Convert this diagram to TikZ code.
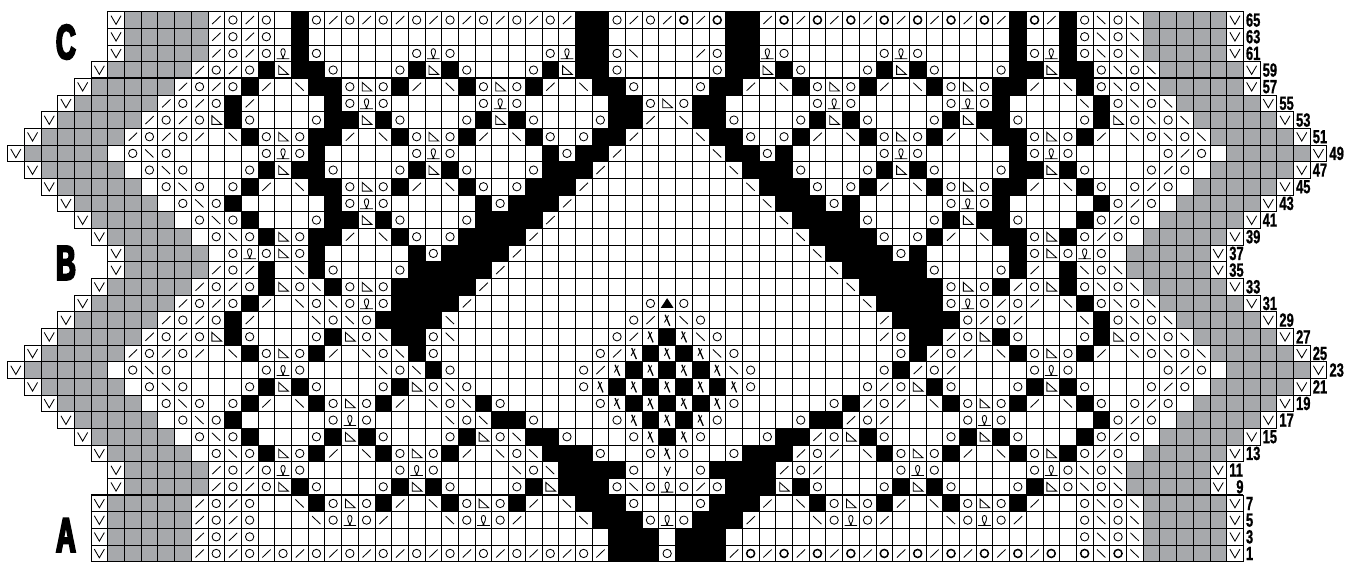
\documentclass[tikz,border=0pt]{standalone}
\usepackage{fontspec}
\newfontfamily\rownumfont[FakeStretch=0.68,FakeBold=1]{Liberation Sans}
\newfontfamily\sectionfont[FakeStretch=0.56,FakeBold=4]{Liberation Sans}
\definecolor{chartgray}{HTML}{A7A9AC}
\tikzset{
  gridcell/.style={draw=black, line width=0.75pt},
  sym/.style={draw=black, line width=0.85pt},
  boldsym/.style={draw=black, line width=1.5pt},
  rownum/.style={anchor=west, inner sep=0pt, xshift=2.5pt, font=\rownumfont\bfseries\fontsize{19}{19}\selectfont},
  section/.style={inner sep=0pt, font=\sectionfont\bfseries\fontsize{49}{49}\selectfont},
  rule/.style={draw=black, line width=2pt}
}
\newcount\cellcol
\newcount\cellrow
\newcommand{\whitecell}{\path[gridcell, fill=white] (0,0) rectangle (1,1);}
\newcommand{\defsym}[2]{\expandafter\def\csname sym#1\endcsname{#2}}
% one macro per chart symbol
\defsym{-}{\whitecell}
\defsym{x}{\path[gridcell, fill=black] (0,0) rectangle (1,1);}
\defsym{g}{\path[gridcell, fill=chartgray] (0,0) rectangle (1,1);}
\defsym{v}{\whitecell\draw[sym] (.2,.24) -- (.5,.76) -- (.8,.24);}
\defsym{o}{\whitecell\draw[sym] (.5,.5) circle (.25);}
\defsym{O}{\whitecell\draw[boldsym] (.5,.5) circle (.24);}
\defsym{/}{\whitecell\draw[sym] (.26,.74) -- (.76,.26);}
\defsym{b}{\whitecell\draw[sym] (.24,.26) -- (.74,.74);}
\defsym{t}{\whitecell\draw[sym] (.24,.24) -- (.24,.76) -- (.82,.76) -- cycle;}
\defsym{l}{\whitecell\draw[sym] (.12,.82) -- (.88,.82) (.56,.82) .. controls (-.05,.02) and (1.05,.02) .. (.44,.82);}
\defsym{c}{\whitecell\draw[sym, line width=1.3pt] (.38,.18) -- (.66,.84); \draw[sym] (.34,.64) -- (.58,.22);}
\defsym{y}{\whitecell\draw[sym] (.32,.3) -- (.52,.64) (.7,.3) -- (.46,.84);}
\defsym{a}{\whitecell\fill[black] (.12,.76) -- (.5,.18) -- (.88,.76) -- cycle;}
\newcommand{\rowscan}[1]{\ifx#1.\else
  \begin{scope}[shift={(\the\cellcol,\the\cellrow)}]\csname sym#1\endcsname\end{scope}%
  \global\advance\cellcol by 1
  \expandafter\rowscan\fi}
\newcommand{\chartrow}[4][]{%
  \global\cellcol=#3
  \global\cellrow=\numexpr(65-#2)/2\relax
  \rowscan #4.
  \node[rownum, #1] (num#2) at (\the\cellcol,\the\cellrow+.5) {#2};
}
\begin{document}
\begin{tikzpicture}[x=16.7pt, y=-16.67pt]
  \useasboundingbox (-0.449,-0.702) rectangle (80.57,33.07);
  % section C
  \chartrow{65}{6}{v ggggg /o/o- x o/o/o/o/o/o/o/o/ xx o/o/O/O xx /O/O/O/O/O/O/O/ x O/ x obob ggggg v}
  \chartrow{63}{6}{v ggggg /o/o- x ---------------- xx ------- xx --------------- x -- x obob ggggg v}
  \chartrow{61}{6}{v ggggg /o/ol x o-----olo-----ol xx ob---/o xx lo-----olo----- x ol x obob ggggg v}
  \chartrow{59}{5}{v ggggg /o/o x t xx o---o x t x o---o x t xx o-----o xx t x o---o x t x o---o xx t xx obob ggggg v}
  % section B
  \chartrow{57}{4}{v ggggg /o/o x /-b xx oto x /-b x oto x /-b xx o---o xx /-b x oto x /-b x oto xx /-b x obob ggggg v}
  \chartrow{55}{3}{v ggggg /o/o x / ---- x olo ----- olo ----- xx oto xx ----- olo ----- olo x ---- b x obob ggggg v}
  \chartrow{53}{2}{v ggggg /o/o t x o---o xx t x o---o x t x o---o xx /-b xx o---o x t x o---o x t xx o---o x t obob ggggg v}
  \chartrow{51}{1}{v ggggg /o/o/ -b x oto xx /-b x oto x /-b x o-o xx / --- b xx o-o x /-b x oto x /-b xx oto x /-b obob ggggg v}
  \chartrow{49}{0}{v ggggg - obo ----- olo x ----- olo ----- x o xx / ----- b xx o x ----- olo ----- x olo ----- o/o - ggggg v}
  \chartrow{47}{1}{v ggggg - obo --- o x t xx o---o x t x o---o xxx / ------- b xxx o---o x t x o---o xx t x o--- o/o - ggggg v}
  \chartrow{45}{2}{v ggggg - obo - o x /-b xx oto x /-b x o-o xxx / --------- b xxx o-o x /-b x oto xx /-b x o-o/o - ggggg v}
  \chartrow{43}{3}{v ggggg - obo x ----- x olo ----- x o xxx / ----------- b xxx o x ----- olo x ----- x o/o - ggggg v}
  \chartrow{41}{4}{v ggggg - obo x --- o xx t x o---o xxxx / ------------- b xxxx o---o x t xx o--- x o/o - ggggg v}
  \chartrow{39}{5}{v ggggg - obo x to xx /-b x o-o xxxx / --------------- b xxxx o-o x /-b xx ot x o/o - ggggg v}
  \chartrow{37}{6}{v ggggg - oloto x ----- x o xxxx / ----------------- b xxxx o x ----- x otolo - ggggg v}
  \chartrow{35}{6}{v ggggg /o/ x -b x o---o xxxxx / ------------------- b xxxxx o---o x /- x bob ggggg v}
  \chartrow{33}{5}{v ggggg /o/o x tob x oto xxxxx / --------------------- b xxxxx oto x /ot x obob ggggg v}
  \chartrow{31}{4}{v ggggg /o/o x /-b ob olo xxxx / ---------- oao ---------- b xxxx olo /o/-b x obob ggggg v}
  \chartrow{29}{3}{v ggggg /o/o x / --- bobo xxxx b ---------- o/cbo ---------- / xxxx o/o/ --- b x obob ggggg v}
  \chartrow{27}{2}{v ggggg /o/o t x o---o x tob xx ob --------- o/cxcbo --------- /o xx /ot x o---o x t obob ggggg v}
  \chartrow{25}{1}{v ggggg /o/o/ -b x oto x /-b ob x o - -------- o/cxcxcbo --------- o x /o/ -b x oto x /-b obob ggggg v}
  \chartrow{23}{0}{v ggggg - obo ----- olo ---- bob x o ------- o/cxcxcxcbo ------- o x /o/ ---- olo ----- o/o - ggggg v}
  \chartrow{21}{1}{v ggggg - obo --- o x t x o---o x t obo ------ ocxcxcxcxco ------ o/ot x o---o x t x o--- o/o - ggggg v}
  \chartrow{19}{2}{v ggggg - obo - o x /-b x oto x /-b ob x o ----- ocxcxcxco ----- o x /o/ -b x oto x /-b x o-o/o - ggggg v}
  \chartrow{17}{3}{v ggggg - obo x ----- olo ---- bob xx o ---- ocxcxco ---- o xx /o/ ---- olo ----- x o/o - ggggg v}
  \chartrow{15}{4}{v ggggg - obo x --- o x t x o---o x tob xx o---ocxco---o xx /ot x o---o x t x o--- x o/o - ggggg v}
  \chartrow{13}{5}{v ggggg - obo x to x /-b x oto x /-b ob xxx o--oco--o xxx /o/ -b x oto x /-b x ot x o/o - ggggg v}
  \chartrow{11}{6}{v ggggg /o/ olo ----- olo ---- bob xxxx o-y-o xxxx /o/ ---- olo ----- olo bob ggggg v}
  \chartrow[xshift=7pt]{9}{6}{v ggggg /o/ot x o---o xtx o---o xt xxx obolo/o xxx t x o---o xtx o---o xto bob ggggg v}
  % section A
  \chartrow{7}{5}{v ggggg /o/o --b x oto x /-b x oto x /-b xxx o---o xxx /-b x oto x /-b x oto x /-- obob ggggg v}
  \chartrow{5}{5}{v ggggg /o/o --- b olo / --- b olo / --- b xxx olo xxx / --- b olo / --- b olo / --- obob ggggg v}
  \chartrow{3}{5}{v ggggg /o/o --------------------- xxx - xxx --------------------- obob ggggg v}
  \chartrow{1}{5}{v ggggg /o/o /o/o/o/o/o/o/o/o/o/o/ xxx o xxx /O/O/O/O/O/O/O/O/O/O - ObOb ggggg v}
  \coordinate (ruleCa) at (5,4);
  \coordinate (ruleCb) at (75,4);
  \coordinate (ruleAa) at (5,29);
  \coordinate (ruleAb) at (74,29);
  \draw[rule] (ruleCa) -- (ruleCb);
  \draw[rule] (ruleAa) -- (ruleAb);
  \node[section] (labelC) at (3.5,1.82) {C};
  \node[section] (labelB) at (3.5,15.07) {B};
  \node[section] (labelA) at (3.5,31.4) {A};
\end{tikzpicture}
\end{document}
